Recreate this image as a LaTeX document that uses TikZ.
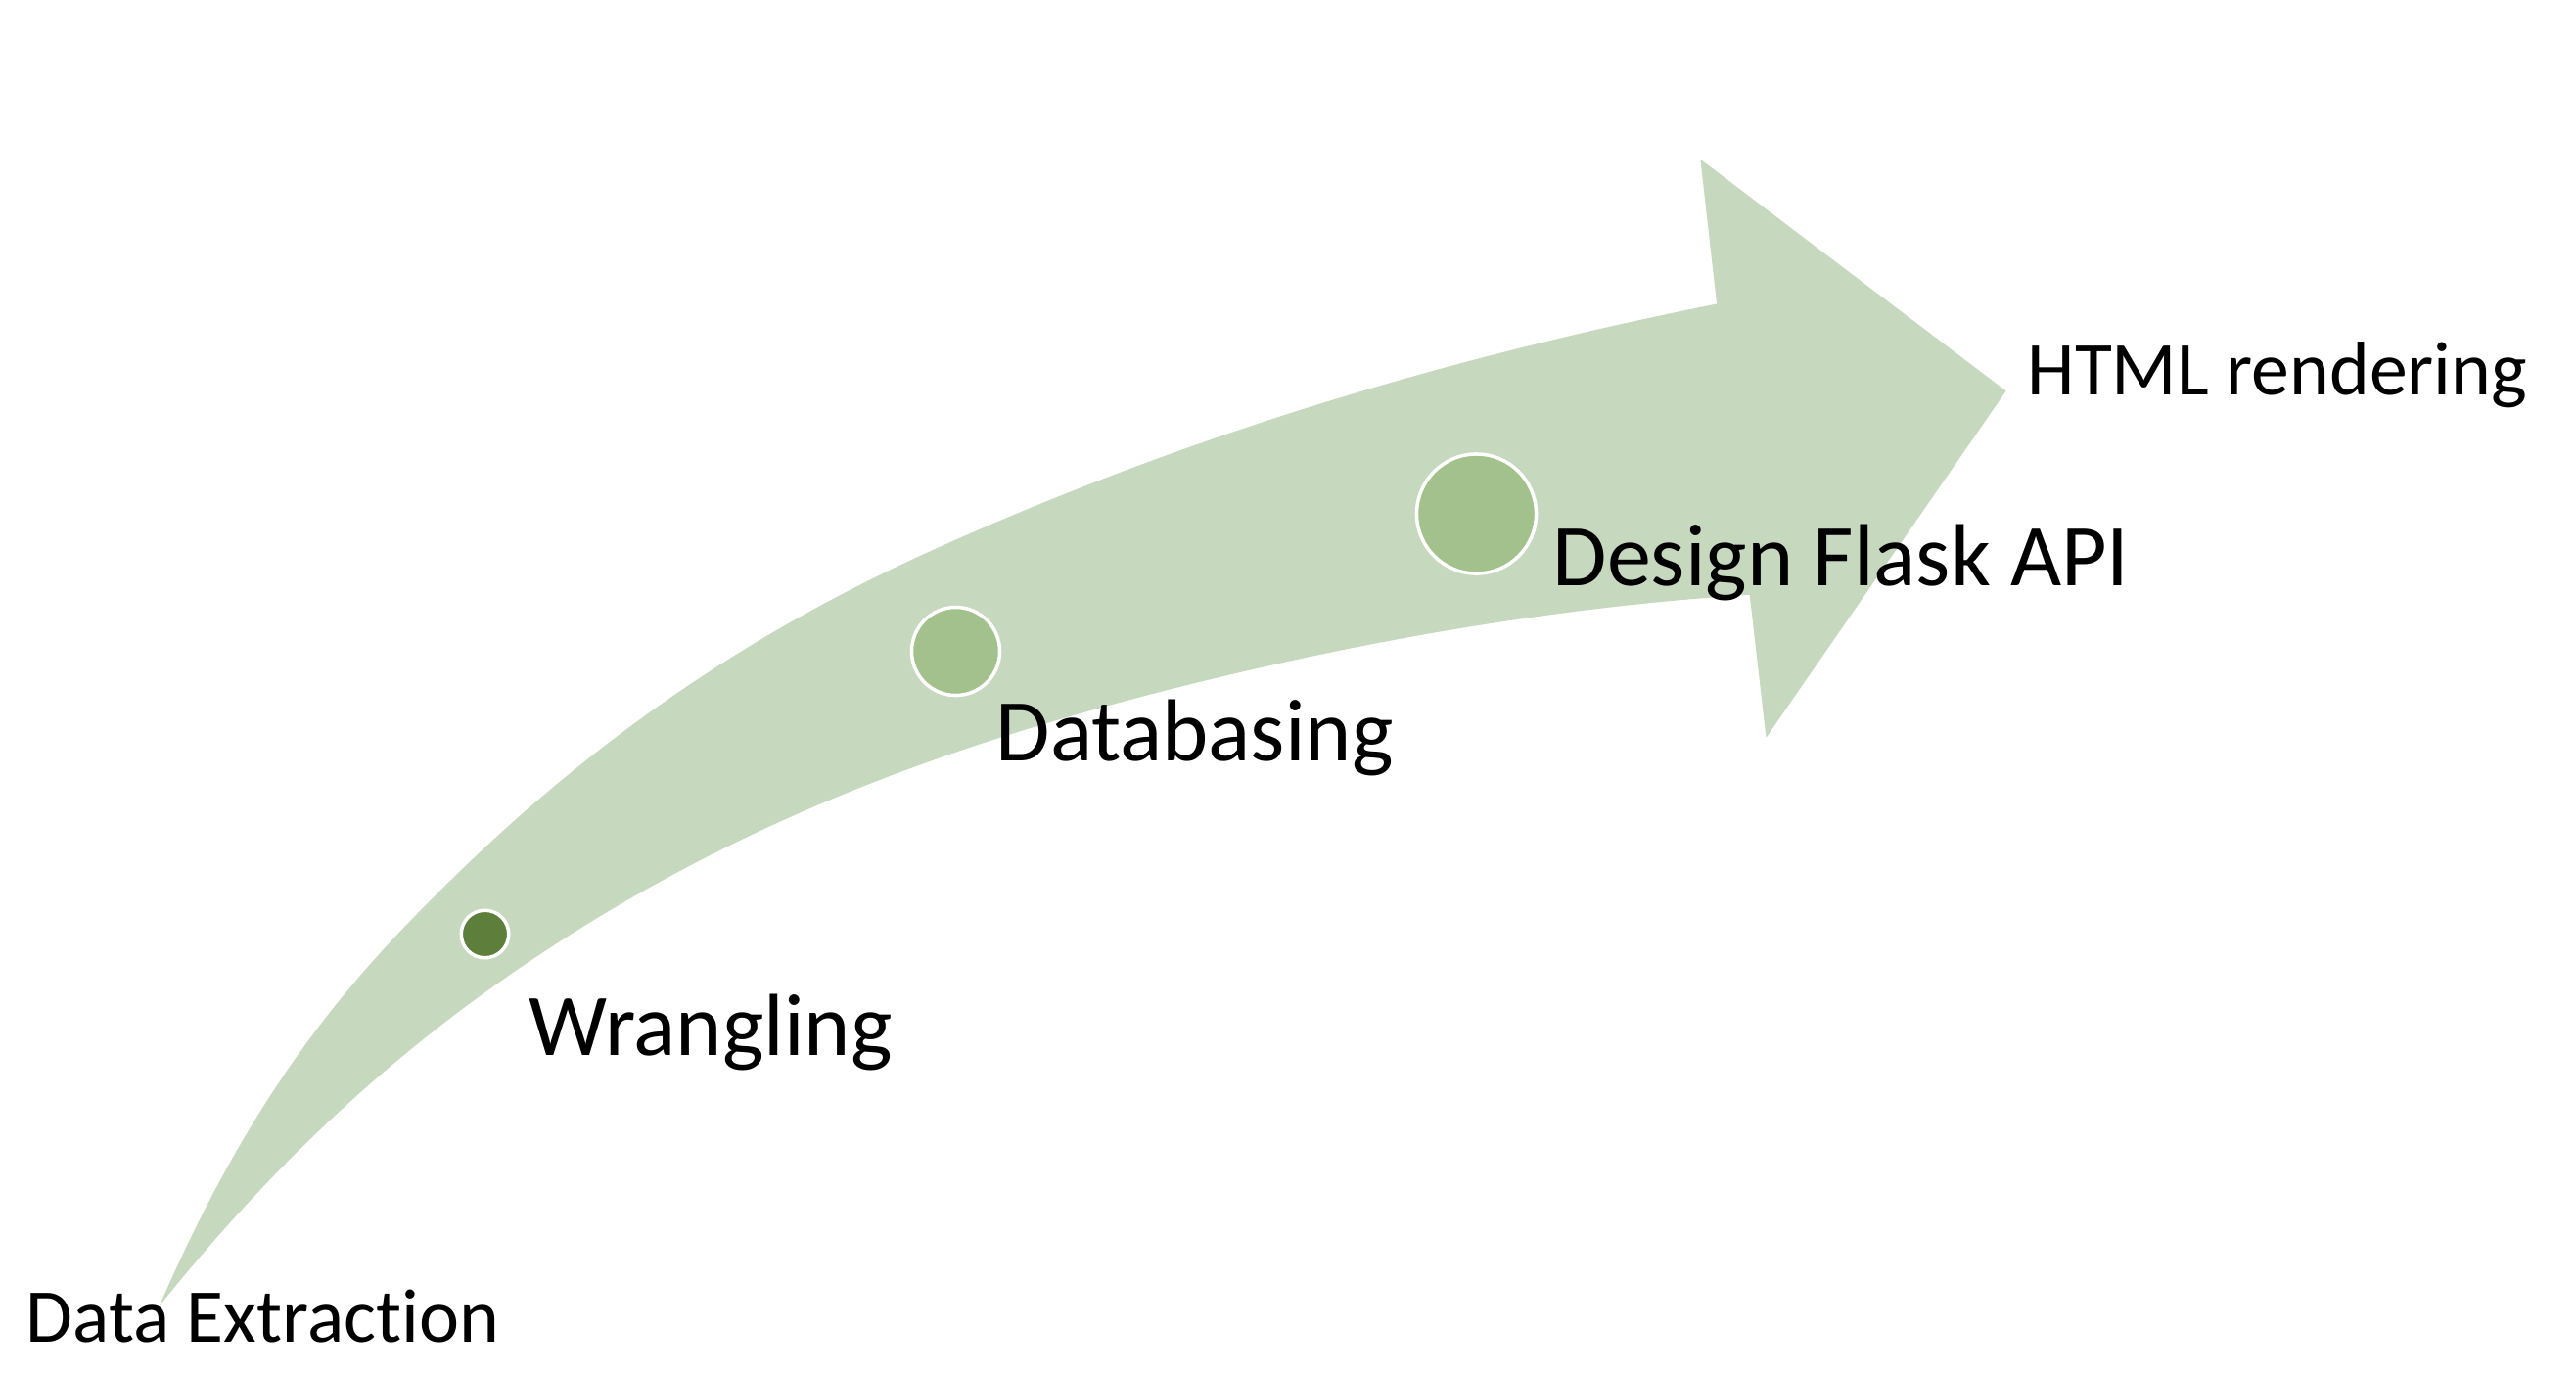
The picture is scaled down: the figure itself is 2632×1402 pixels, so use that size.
\documentclass[tikz,border=0pt]{standalone}
\usepackage{fontspec}
\setmainfont{Carlito}[Ligatures=NoCommon]
\definecolor{band}{RGB}{198,216,190}
\definecolor{midgreen}{RGB}{162,193,140}
\definecolor{darkgreen}{RGB}{94,126,60}
\tikzset{
  dot/.style={circle, draw=white, line width=1pt, inner sep=0pt},
  lbl/.style={anchor=base west, inner sep=0pt, text=black},
  small/.style={font=\fontsize{22.1pt}{26pt}\selectfont},
  big/.style={font=\fontsize{25.6pt}{30pt}\selectfont}
}
\begin{document}
\begin{tikzpicture}[x=0.01cm,y=-0.01cm]
\useasboundingbox (0,0) rectangle (2632,1402);
\fill[white] (0,0) rectangle (2632,1402);
% curved arrow band
\fill[band] (162.8,1334.5)
  .. controls (262.5,1105.2) and (362.3,995.7) .. (462,898)
  .. controls (626.7,736.6) and (791.3,634.8) .. (956,560.7)
  .. controls (1222,441) and (1488.1,363.7) .. (1754.1,310.5)
  -- (1737.4,162.8) -- (2049.6,399.5) -- (1804.5,753.7) -- (1787.7,607.7)
  .. controls (1594.8,620.2) and (1401.9,652.8) .. (1209,701)
  .. controls (971.3,760.4) and (733.7,842.6) .. (496,1013.7)
  .. controls (384.9,1093.7) and (273.9,1195.6) .. (162.8,1334.5) -- cycle;
% milestone dots
\node[dot, fill=darkgreen, minimum size=0.485cm] (d1) at (495.5,954.5) {};
\node[dot, fill=midgreen, minimum size=0.9cm] (d2) at (976.5,665.5) {};
\node[dot, fill=midgreen, minimum size=1.22cm] (d3) at (1508.5,525) {};
% labels
\node[lbl, small] (t0) at (26,1371) {Data Extraction};
\node[lbl, big] (t1) at (540,1078) {Wrangling};
\node[lbl, big] (t2) at (1017,777) {Databasing};
\node[lbl, big] (t3) at (1586,598) {Design Flask API};
\node[lbl, small] (t4) at (2071,403) {HTML rendering};
\end{tikzpicture}
\end{document}
